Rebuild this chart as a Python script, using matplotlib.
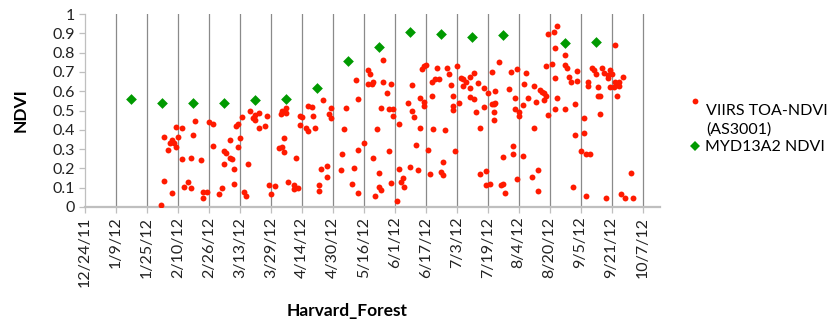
import numpy as np
import pandas as pd
import matplotlib
matplotlib.use("Agg")
import matplotlib.pyplot as plt
import matplotlib.transforms as mtransforms
from matplotlib.lines import Line2D

plt.rcParams['font.family'] = ['Lato', 'DejaVu Sans']

start = pd.Timestamp('2011-12-24')

# x axis labels every 16 days, axis runs a bit past the last one
tick_labels = ['12/24/11', '1/9/12', '1/25/12', '2/10/12', '2/26/12', '3/13/12',
               '3/29/12', '4/14/12', '4/30/12', '5/16/12', '6/1/12', '6/17/12',
               '7/3/12', '7/19/12', '8/4/12', '8/20/12', '9/5/12', '9/21/12', '10/7/12']
x_end = '10/16/12'

# MYD13A2 16-day composites (days after 12/24/11)
modis_day = [24, 40, 56, 72, 88, 104, 120, 136, 152, 168, 184, 200, 216, 248, 264]
modis_ndvi = [0.56, 0.54, 0.54, 0.54, 0.555, 0.56, 0.615, 0.755, 0.83, 0.905,
              0.895, 0.88, 0.89, 0.85, 0.855]

# VIIRS daily TOA NDVI (days after 12/24/11)
viirs_day = [
    39, 41, 41, 43, 44, 45, 45, 46, 47, 47, 48, 50, 50, 51, 53, 55, 55, 56, 57,
    60, 61, 63, 61, 64, 66, 66, 72, 73, 75, 76, 72, 71, 69, 77, 77, 75, 78, 79, 81,
    80, 79, 84, 82, 83, 85, 88, 90, 88, 90, 93, 94, 87, 95, 98, 96, 100, 103, 102, 103,
    101, 102, 104, 104, 105,
    109, 108, 110, 108, 111, 112, 111, 114, 115, 115, 117, 118, 119, 123, 127, 126, 127,
    122, 125, 125, 121, 121, 135, 134, 133, 132, 140, 141, 139, 138, 141, 144, 141, 146,
    147, 146, 149, 148, 154, 154, 153, 151, 149, 152, 152, 153, 150,
    156, 158, 157, 159, 159, 162, 157, 158, 162, 164, 163, 165, 161, 169, 167, 169, 170,
    173, 171, 168, 172, 175, 174, 176, 173, 175, 175, 177, 178, 182, 181, 183, 179, 179,
    180, 186, 185, 184, 185, 187, 188, 189, 190, 190, 190, 191, 192, 193, 194, 195, 195,
    197, 199, 201, 203, 199, 199, 201, 202, 204, 204,
    206, 208, 206, 210, 210, 211, 212, 212, 211, 211, 214, 207, 207, 209, 215, 216, 217,
    216, 221, 221, 226, 223, 220, 223, 219, 222, 222, 224, 224, 226, 228, 227, 229, 232,
    233, 232, 234, 231, 234, 235, 236, 237, 238, 237, 239, 238, 241, 243, 243, 244, 239,
    242, 244, 243, 248, 248, 249, 250, 251, 248, 253, 253, 252,
    254, 254, 258, 258, 256, 259, 261, 259, 262, 263, 264, 260, 260, 265, 265, 266, 266,
    269, 267, 268, 270, 271, 272, 270, 271, 273, 274, 275, 276, 276, 278, 275, 274, 277,
    279, 282, 283]
viirs_ndvi = [
    0.01, 0.363, 0.136, 0.294, 0.333, 0.071, 0.347, 0.333, 0.309, 0.416, 0.361, 0.408,
    0.25, 0.105, 0.131, 0.252, 0.097, 0.375, 0.446,
    0.242, 0.076, 0.076, 0.045, 0.439, 0.428, 0.316, 0.290, 0.278, 0.252, 0.249, 0.224,
    0.097, 0.069, 0.195, 0.117, 0.345, 0.418, 0.428, 0.468, 0.358, 0.311, 0.224, 0.079,
    0.055, 0.497, 0.477, 0.487, 0.451, 0.411, 0.421, 0.473, 0.463, 0.112, 0.107, 0.066,
    0.307, 0.359, 0.311, 0.287, 0.484, 0.497, 0.511, 0.485, 0.131,
    0.256, 0.114, 0.100, 0.093, 0.473, 0.468, 0.425, 0.411, 0.394, 0.525, 0.520, 0.473,
    0.408, 0.554, 0.515, 0.480, 0.463, 0.195, 0.212, 0.157, 0.114, 0.085, 0.515, 0.402,
    0.276, 0.190, 0.660, 0.560, 0.200, 0.117, 0.071, 0.330, 0.294, 0.710, 0.687, 0.636,
    0.649, 0.637, 0.762, 0.646, 0.515, 0.402, 0.256, 0.175, 0.105, 0.088, 0.059,
    0.589, 0.636, 0.508, 0.508, 0.473, 0.428, 0.292, 0.123, 0.195, 0.149, 0.128, 0.105,
    0.033, 0.632, 0.537, 0.497, 0.468, 0.408, 0.321, 0.209, 0.193, 0.731, 0.713, 0.736,
    0.563, 0.542, 0.525, 0.294, 0.169, 0.718, 0.663, 0.663, 0.646, 0.577, 0.402, 0.397,
    0.232, 0.183, 0.166, 0.718, 0.687, 0.632, 0.575, 0.525, 0.503, 0.292, 0.731, 0.537,
    0.670, 0.663, 0.627, 0.646, 0.675, 0.696, 0.642, 0.618, 0.570, 0.560, 0.491, 0.408,
    0.169,
    0.615, 0.589, 0.517, 0.701, 0.532, 0.532, 0.537, 0.601, 0.491, 0.451, 0.753, 0.188,
    0.114, 0.117, 0.114, 0.119, 0.071, 0.258, 0.318, 0.276, 0.264, 0.147, 0.701, 0.715,
    0.610, 0.566, 0.508, 0.491, 0.472, 0.528, 0.694, 0.636, 0.566, 0.629, 0.546, 0.409,
    0.190, 0.154, 0.085, 0.606, 0.594, 0.589, 0.577, 0.554, 0.477, 0.732, 0.741, 0.667,
    0.508, 0.566, 0.898, 0.905, 0.938, 0.822, 0.736, 0.788, 0.718, 0.675, 0.649, 0.508,
    0.532, 0.373, 0.105,
    0.706, 0.653, 0.463, 0.382, 0.290, 0.276, 0.276, 0.059, 0.722, 0.710, 0.687, 0.649,
    0.627, 0.623, 0.577, 0.577, 0.480, 0.045, 0.718, 0.693, 0.684, 0.710, 0.687, 0.667,
    0.623, 0.623, 0.649, 0.632, 0.646, 0.629, 0.672, 0.575, 0.839, 0.066, 0.045, 0.178,
    0.045]

viirs_dates = start + pd.to_timedelta(viirs_day, unit='D')
modis_dates = start + pd.to_timedelta(modis_day, unit='D')
tick_dates = pd.to_datetime(tick_labels, format='%m/%d/%y')

red = '#ff1a00'
green = '#009a00'
axis_gray = '#bfbfbf'
grid_gray = '#8a8a8a'

fig = plt.figure(figsize=(8.3, 3.23), dpi=100)
ax = fig.add_axes([85 / 830, 1 - 207 / 323, 575 / 830, 193 / 323])

ax.scatter(viirs_dates, viirs_ndvi, s=18, color=red, lw=0, zorder=3)
ax.scatter(modis_dates, modis_ndvi, s=30, marker='D', color=green, lw=0, zorder=4)

ax.set_xlim(start, pd.to_datetime(x_end, format='%m/%d/%y'))
ax.set_ylim(0, 1)
ax.set_xticks(tick_dates)
ax.set_xticklabels(tick_labels, rotation=90, fontsize=11.5, color='#222222')
ax.set_yticks(np.arange(0, 1.01, 0.1))
ax.set_yticklabels(['0'] + ['%.1f' % t for t in np.arange(0.1, 0.95, 0.1)] + ['1'],
                   fontsize=11.5, color='#222222')

# nudge the rotated date labels a touch to the right of their ticks
shift = mtransforms.ScaledTranslation(2 / 100, 0, fig.dpi_scale_trans)
for lbl in ax.get_xticklabels():
    lbl.set_transform(lbl.get_transform() + shift)

ax.grid(axis='x', color=grid_gray, lw=0.9)
ax.get_xgridlines()[0].set_visible(False)
ax.set_axisbelow(True)

for side in ['top', 'right']:
    ax.spines[side].set_visible(False)
ax.spines['left'].set_color(axis_gray)
ax.spines['left'].set_linewidth(0.9)
ax.spines['bottom'].set_color(axis_gray)
ax.spines['bottom'].set_linewidth(1.6)
ax.tick_params(axis='both', color=axis_gray, length=4, width=0.9, pad=3)

fig.text(21 / 830, 1 - 110 / 323, 'NDVI', rotation=90, ha='center', va='center',
         fontsize=12.5, fontweight='bold')
fig.text(347 / 830, 1 - 311 / 323, 'Harvard_Forest', ha='center', va='center',
         fontsize=12.5, fontweight='bold')

# legend drawn by hand so the dot sits on the first line of its label
fig.add_artist(Line2D([695 / 830], [1 - 101 / 323], transform=fig.transFigure,
                      marker='o', ms=4.2, color=red, mew=0, ls='none'))
fig.add_artist(Line2D([695 / 830], [1 - 146 / 323], transform=fig.transFigure,
                      marker='D', ms=5.5, color=green, mew=0, ls='none'))
fig.text(706 / 830, 1 - 104 / 323, 'VIIRS TOA-NDVI\n(AS3001)', ha='left', va='top',
         fontsize=11.5, linespacing=1.35, transform=fig.transFigure)
fig.text(705 / 830, 1 - 147 / 323, 'MYD13A2 NDVI', ha='left', va='center',
         fontsize=11.5, transform=fig.transFigure)

fig.savefig('out.png', dpi=100)
